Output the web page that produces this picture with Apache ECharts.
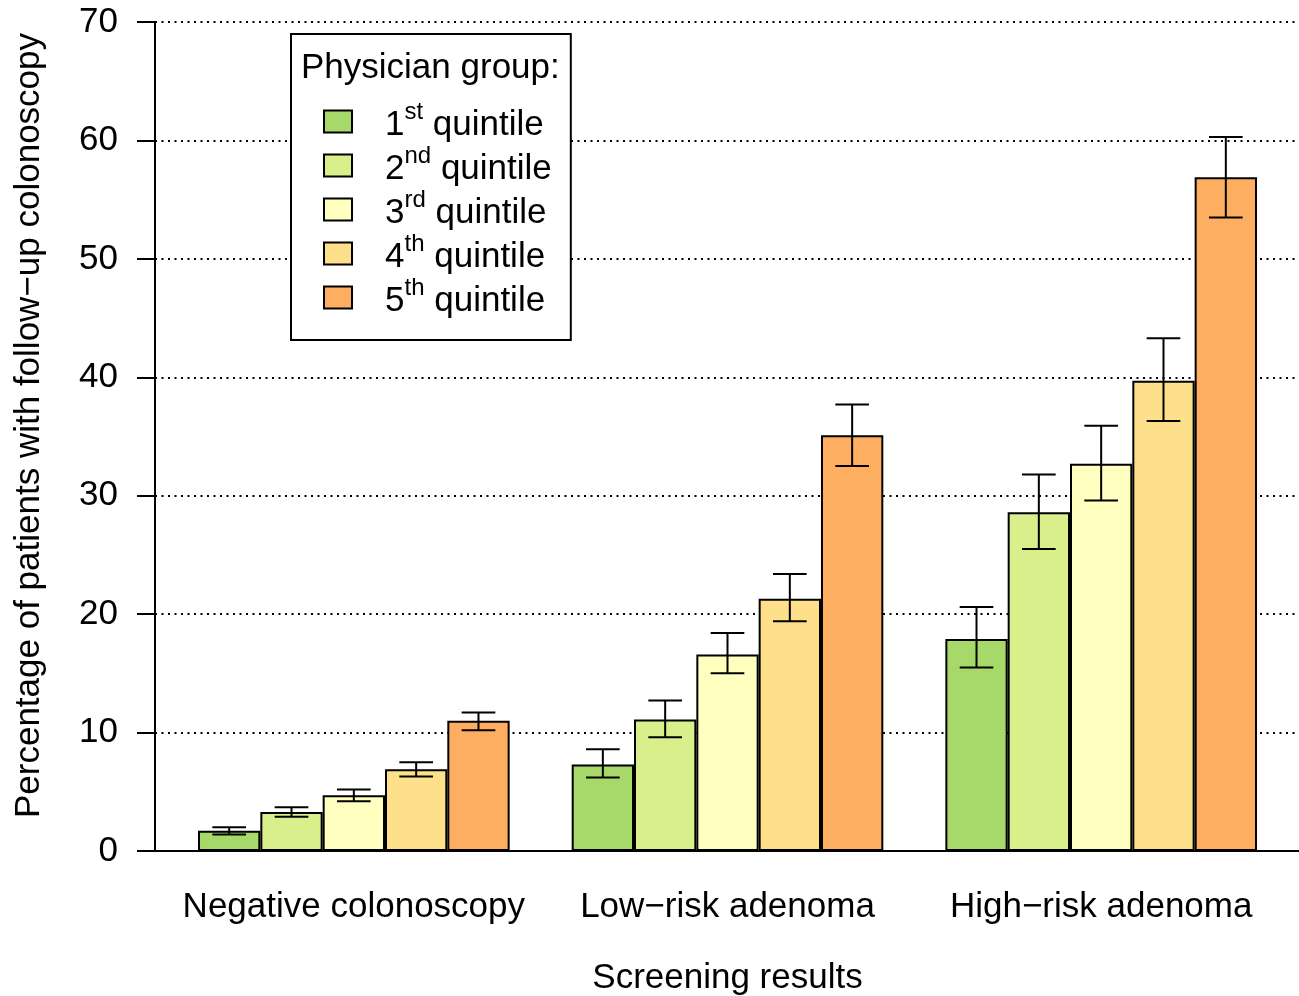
<!DOCTYPE html>
<html>
<head>
<meta charset="utf-8">
<title>Follow-up colonoscopy by physician group</title>
<script src="https://cdn.jsdelivr.net/npm/echarts@6/dist/echarts.min.js"></script>
<style>
  html, body { margin: 0; padding: 0; background: #fff; }
  #chart { width: 1299px; height: 996px; }
</style>
</head>
<body>
<div id="chart"></div>
<script>
// Screening result groups on the x axis
const categories = ['Negative colonoscopy', 'Low\u2212risk adenoma', 'High\u2212risk adenoma'];

// Physician quintile groups
const quintileNumbers = ['1', '2', '3', '4', '5'];
const ordinalSuffixes = ['st', 'nd', 'rd', 'th', 'th'];
const quintileColors = ['#a6d96a', '#d9ef8b', '#ffffbf', '#fee08b', '#fdae61'];

// Percentage of patients with follow-up colonoscopy, per quintile
const q1Values = [1.7, 7.3, 17.9];
const q2Values = [3.3, 11.1, 28.6];
const q3Values = [4.7, 16.6, 32.7];
const q4Values = [6.9, 21.3, 39.7];
const q5Values = [11.0, 35.1, 56.9];

// Confidence interval bounds, per quintile
const q1Lower = [1.4, 6.2, 15.5];
const q1Upper = [2.0, 8.6, 20.6];
const q2Lower = [2.9, 9.6, 25.5];
const q2Upper = [3.7, 12.7, 31.8];
const q3Lower = [4.2, 15.0, 29.6];
const q3Upper = [5.2, 18.4, 35.9];
const q4Lower = [6.3, 19.4, 36.3];
const q4Upper = [7.5, 23.4, 43.3];
const q5Lower = [10.2, 32.5, 53.5];
const q5Upper = [11.7, 37.7, 60.3];

// Y axis ticks
const yMin = 0;
const yMax = 70;
const yStep = 10;

const valueSets = [q1Values, q2Values, q3Values, q4Values, q5Values];
const lowerSets = [q1Lower, q2Lower, q3Lower, q4Lower, q5Lower];
const upperSets = [q1Upper, q2Upper, q3Upper, q4Upper, q5Upper];
const seriesNames = quintileNumbers.map((n, i) => n + ordinalSuffixes[i] + ' quintile');

const FONT = '"Liberation Sans", Arial, sans-serif';
const FS = 35;
const CATEGORY_GAP = 0.166;
const barCount = valueSets.length;

const barSeries = valueSets.map((vals, i) => ({
  name: seriesNames[i],
  type: 'bar',
  xAxisIndex: 1,
  yAxisIndex: 1,
  data: vals,
  barGap: '0%',
  barCategoryGap: (CATEGORY_GAP * 100) + '%',
  itemStyle: { color: quintileColors[i], borderColor: '#000', borderWidth: 2 },
  emphasis: { disabled: true },
  z: 2
}));

// Error bars: vertical whisker with caps, centred on each bar
const errorSeries = {
  type: 'custom',
  xAxisIndex: 1,
  yAxisIndex: 1,
  silent: true,
  z: 5,
  data: (function () {
    const rows = [];
    for (let s = 0; s < barCount; s++) {
      for (let c = 0; c < categories.length; c++) {
        rows.push([c, lowerSets[s][c], upperSets[s][c], s]);
      }
    }
    return rows;
  })(),
  renderItem: function (params, api) {
    const c = api.value(0);
    const s = api.value(3);
    const lo = api.coord([c, api.value(1)]);
    const hi = api.coord([c, api.value(2)]);
    const band = api.size([1, 0])[0];
    const barW = band * (1 - CATEGORY_GAP) / barCount;
    const x = lo[0] + (s - (barCount - 1) / 2) * barW;
    const cap = barW * 0.27;
    const style = { stroke: '#000', lineWidth: 2 };
    return {
      type: 'group',
      children: [
        { type: 'line', shape: { x1: x, y1: lo[1], x2: x, y2: hi[1] }, style: style },
        { type: 'line', shape: { x1: x - cap, y1: lo[1], x2: x + cap, y2: lo[1] }, style: style },
        { type: 'line', shape: { x1: x - cap, y1: hi[1], x2: x + cap, y2: hi[1] }, style: style }
      ]
    };
  }
};

const chart = echarts.init(document.getElementById('chart'), null, { renderer: 'canvas' });

chart.setOption({
  animation: false,
  backgroundColor: '#fff',
  textStyle: { fontFamily: FONT, color: '#000' },
  title: {
    text: 'Physician group:',
    left: 301,
    top: 51,
    padding: 0,
    z: 10,
    textStyle: { fontFamily: FONT, fontSize: FS, fontWeight: 'normal', color: '#000' }
  },
  legend: {
    data: seriesNames,
    orient: 'vertical',
    left: 291,
    top: 34,
    padding: [66, 19, 21, 32],
    itemGap: 1,
    itemWidth: 28,
    itemHeight: 22,
    borderColor: '#000',
    borderWidth: 2,
    borderRadius: 0,
    backgroundColor: '#fff',
    selectedMode: false,
    icon: 'rect',
    itemStyle: { borderColor: '#000', borderWidth: 2 },
    z: 8,
    formatter: function (name) {
      const i = seriesNames.indexOf(name);
      return '{n|' + quintileNumbers[i] + '}{s|' + ordinalSuffixes[i] + '}{q| quintile}';
    },
    textStyle: {
      fontFamily: FONT,
      color: '#000',
      rich: {
        n: { fontFamily: FONT, fontSize: FS, lineHeight: 43, verticalAlign: 'bottom', padding: [0, 0, 0, 28] },
        s: { fontFamily: FONT, fontSize: 24, lineHeight: 24, verticalAlign: 'top' },
        q: { fontFamily: FONT, fontSize: FS, lineHeight: 43, verticalAlign: 'bottom' }
      }
    }
  },
  grid: [
    { left: 155, right: 0, top: 22, bottom: 145, outerBoundsMode: 'none', containLabel: false },
    { left: 167, right: 11, top: 22, bottom: 145, outerBoundsMode: 'none', containLabel: false }
  ],
  xAxis: [
    {
      gridIndex: 0,
      type: 'value',
      min: 0,
      max: 1,
      axisLine: { show: true, onZero: false, lineStyle: { color: '#000', width: 2 } },
      axisTick: { show: false },
      axisLabel: { show: false },
      splitLine: { show: false }
    },
    {
      gridIndex: 1,
      type: 'category',
      data: categories,
      axisLine: { show: false },
      axisTick: { show: false },
      axisLabel: { fontFamily: FONT, fontSize: FS, color: '#000', margin: 39, interval: 0 },
      name: 'Screening results',
      nameLocation: 'middle',
      nameGap: 110,
      nameTextStyle: { fontFamily: FONT, fontSize: FS, color: '#000' }
    }
  ],
  yAxis: [
    {
      gridIndex: 0,
      type: 'value',
      min: yMin,
      max: yMax,
      interval: yStep,
      axisLine: { show: true, lineStyle: { color: '#000', width: 2 } },
      axisTick: { show: true, length: 18, lineStyle: { color: '#000', width: 2 } },
      axisLabel: { fontFamily: FONT, fontSize: FS, color: '#000', margin: 37 },
      splitLine: { show: true, lineStyle: { color: '#000', width: 2, type: [2, 4.5] } },
      name: 'Percentage of patients with follow\u2212up colonoscopy',
      nameLocation: 'middle',
      nameGap: 108,
      nameTextStyle: { fontFamily: FONT, fontSize: FS, color: '#000', padding: [0, 0, 0, 22] }
    },
    {
      gridIndex: 1,
      type: 'value',
      min: yMin,
      max: yMax,
      interval: yStep,
      show: false,
      splitLine: { show: false }
    }
  ],
  series: barSeries.concat([errorSeries])
});
</script>
</body>
</html>
